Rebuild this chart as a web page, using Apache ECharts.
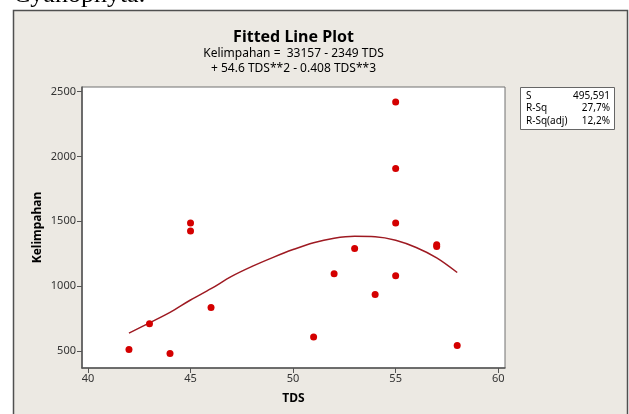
<!DOCTYPE html>
<html>
<head>
<meta charset="utf-8">
<script src="https://cdn.jsdelivr.net/npm/echarts@6/dist/echarts.min.js"></script>
<style>
html,body{margin:0;padding:0;background:#fff;}
#chart{width:629px;height:414px;}
</style>
</head>
<body>
<div id="chart"></div>
<script>
// Observations
const tdsValues = [42, 43, 44, 45, 45, 46, 51, 52, 53, 54, 55, 55, 55, 55, 57, 57, 58];
const kelimpahanValues = [512, 709, 481, 1487, 1425, 835, 608, 1095, 1291, 935, 1080, 1487, 1907, 2420, 1320, 1305, 543];
// Fitted line
const fitTds = [42, 43, 44, 45, 46, 47, 48, 49, 50, 51, 52, 53, 54, 55, 56, 57, 58];
const fitValues = [638, 717, 798, 893, 980, 1075, 1152, 1220, 1282, 1335, 1369, 1384, 1381, 1354, 1298, 1218, 1105];
// Tick labels
const xTicks = [40, 45, 50, 55, 60];
const yTicks = [500, 1000, 1500, 2000, 2500];
// Texts
const titleText = 'Fitted Line Plot';
const equationLines = ['Kelimpahan =  33157 - 2349 TDS', '+ 54.6 TDS**2 - 0.408 TDS**3'];
const statLabels = ['S', 'R-Sq', 'R-Sq(adj)'];
const statValues = ['495,591', '27,7%', '12,2%'];
const headerText = 'Cyanophyta.';

const FONT = 'Noto Sans, Liberation Sans, sans-serif';
const chart = echarts.init(document.getElementById('chart'), null, {renderer: 'canvas'});

const scatterData = tdsValues.map((x, i) => [x, kelimpahanValues[i]]);
const fitData = fitTds.map((x, i) => [x, fitValues[i]]);

const statGraphics = [];
statLabels.forEach((lab, i) => {
  statGraphics.push({type: 'text', z: 10, style: {text: lab, x: 526, y: 96 + i * 12.5, fill: '#000', font: '10px ' + FONT, textVerticalAlign: 'middle', textAlign: 'left'}});
  statGraphics.push({type: 'text', z: 10, style: {text: statValues[i], x: 610, y: 96 + i * 12.5, fill: '#000', font: '10px ' + FONT, textVerticalAlign: 'middle', textAlign: 'right'}});
});

chart.setOption({
  animation: false,
  backgroundColor: '#ffffff',
  graphic: [
    {type: 'rect', z: -100, silent: true, shape: {x: 13.5, y: 10.5, width: 614, height: 420}, style: {fill: '#ECE9E3', stroke: '#505050', lineWidth: 1.5}},
    {type: 'text', z: 10, style: {text: headerText, x: 13, y: -5, fill: '#000', font: '26px Liberation Serif, serif', textVerticalAlign: 'middle', textAlign: 'left'}},
    {type: 'text', z: 10, style: {text: titleText, x: 293.5, y: 37, fill: '#000', font: 'bold 16px ' + FONT, textVerticalAlign: 'middle', textAlign: 'center'}},
    {type: 'text', z: 10, style: {text: equationLines[0], x: 293.5, y: 53.5, fill: '#000', font: '12px ' + FONT, textVerticalAlign: 'middle', textAlign: 'center'}},
    {type: 'text', z: 10, style: {text: equationLines[1], x: 293.5, y: 68.5, fill: '#000', font: '12px ' + FONT, textVerticalAlign: 'middle', textAlign: 'center'}},
    {type: 'rect', z: 5, shape: {x: 520.5, y: 87.5, width: 94, height: 42}, style: {fill: '#fff', stroke: '#666', lineWidth: 1}},
    ...statGraphics
  ],
  grid: {
    left: 82, top: 87, right: 124, bottom: 46,
    show: true, backgroundColor: '#ffffff', borderColor: '#707070', borderWidth: 1
  },
  xAxis: {
    type: 'value', min: 39.71, max: 60.33,
    name: 'TDS', nameLocation: 'middle', nameGap: 25,
    nameTextStyle: {fontFamily: FONT, fontWeight: 'bold', fontSize: 12, color: '#000'},
    axisLine: {show: true, onZero: false, lineStyle: {color: '#555', width: 1.5}},
    axisTick: {show: true, length: 5, inside: false, customValues: xTicks, lineStyle: {color: '#555'}},
    axisLabel: {show: true, customValues: xTicks, formatter: v => String(v), fontFamily: FONT, fontSize: 11, color: '#333', margin: 5},
    splitLine: {show: false}
  },
  yAxis: {
    type: 'value', min: 368.5, max: 2536,
    name: 'Kelimpahan', nameLocation: 'middle', nameGap: 38, nameRotate: 90, nameMoveOverlap: false,
    nameTextStyle: {fontFamily: FONT, fontWeight: 'bold', fontSize: 12, color: '#000'},
    axisLine: {show: true, onZero: false, lineStyle: {color: '#555', width: 1.5}},
    axisTick: {show: true, length: 5, inside: false, customValues: yTicks, lineStyle: {color: '#555'}},
    axisLabel: {show: true, customValues: yTicks, formatter: v => String(v), fontFamily: FONT, fontSize: 11, color: '#333', margin: 6},
    splitLine: {show: false}
  },
  series: [
    {
      type: 'line', data: fitData, smooth: 0.35, showSymbol: false, symbol: 'none',
      lineStyle: {color: '#9E1A22', width: 1.5}, z: 3, silent: true
    },
    {
      type: 'scatter', data: scatterData, symbol: 'circle', symbolSize: 7,
      itemStyle: {color: '#D40000', opacity: 1}, z: 4, silent: true
    }
  ]
});
</script>
</body>
</html>
